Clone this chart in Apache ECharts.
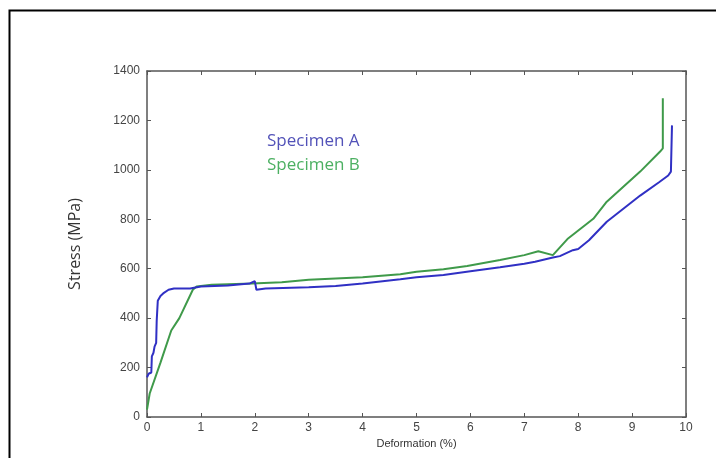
<!DOCTYPE html>
<html>
<head>
<meta charset="utf-8">
<script src="https://cdn.jsdelivr.net/npm/echarts@6/dist/echarts.min.js"></script>
<style>html,body{margin:0;padding:0;background:#fff;}#c{width:716px;height:458px;}</style>
</head>
<body>
<div id="c"></div>
<script>
const xTicks = [0,1,2,3,4,5,6,7,8,9,10];
const yTicks = [0,200,400,600,800,1000,1200,1400];

const specimenA_strain = [0,0.03,0.08,0.09,0.12,0.14,0.17,0.18,0.2,0.25,0.3,0.4,0.5,0.8,1.0,1.5,1.9,2.0,2.03,2.2,3,3.5,4,4.7,5,5.5,6,6.55,7,7.2,7.53,7.66,7.9,8.0,8.2,8.53,9.15,9.5,9.67,9.72,9.74];
const specimenA_stress = [160,175,180,245,260,285,300,390,470,490,500,515,520,520,528,532,540,550,515,520,525,530,540,557,565,575,590,606,620,628,645,651,675,680,715,790,896,950,977,993,1180];

const specimenB_strain = [0,0.05,0.25,0.45,0.6,0.85,0.92,1.2,1.95,2.5,3,3.5,4,4.7,5,5.5,5.94,6.55,7,7.26,7.53,7.8,8.28,8.53,9.15,9.52,9.57,9.57];
const specimenB_stress = [30,95,220,350,400,515,528,535,540,545,555,560,565,578,588,598,611,635,655,671,655,720,802,871,993,1074,1087,1290];

const seriesNames = ['Specimen A','Specimen B'];
const lineColors = ['#3030c4','#3f9a4a'];
const labelColors = ['#5252b8','#4cb062'];

function pairs(xs, ys){ return xs.map((x,i)=>[x, ys[i]]); }

const chart = echarts.init(document.getElementById('c'), null, {renderer:'canvas'});
const axisColor = '#555';
const tickFont = {color:'#444', fontSize:12, fontFamily:'Liberation Sans, Arial, sans-serif', formatter:(v)=>String(v)};

chart.setOption({
  animation:false,
  backgroundColor:'#fff',
  grid:{left:147, right:30, top:71, bottom:41, containLabel:false},
  legend:{
    orient:'vertical', left:262, top:133, itemWidth:0, itemHeight:0, itemGap:7, padding:0,
    icon:'none',
    textStyle:{fontSize:17, fontFamily:'Open Sans, sans-serif'},
    data:[
      {name:seriesNames[0], icon:'none', textStyle:{color:labelColors[0]}},
      {name:seriesNames[1], icon:'none', textStyle:{color:labelColors[1]}}
    ]
  },
  xAxis:[
    {type:'value', min:xTicks[0], max:xTicks[xTicks.length-1], interval:1, position:'bottom',
     name:'Deformation (%)', nameLocation:'middle', nameGap:19,
     nameTextStyle:{color:'#333', fontSize:11, fontFamily:'Liberation Sans, Arial, sans-serif'},
     axisLine:{show:true, onZero:false, lineStyle:{color:axisColor, width:1.5}},
     axisTick:{show:true, inside:true, length:4, lineStyle:{color:axisColor}},
     axisLabel:{...tickFont, margin:5},
     splitLine:{show:false}},
    {type:'value', min:xTicks[0], max:xTicks[xTicks.length-1], interval:1, position:'top',
     axisLine:{show:true, onZero:false, lineStyle:{color:axisColor, width:1.5}},
     axisTick:{show:true, inside:true, length:4, lineStyle:{color:axisColor}},
     axisLabel:{show:false}, splitLine:{show:false}}
  ],
  yAxis:[
    {type:'value', min:yTicks[0], max:yTicks[yTicks.length-1], interval:200, position:'left',
     name:'Stress (MPa)', nameLocation:'middle', nameGap:64, nameRotate:90,
     nameTextStyle:{color:'#333', fontSize:16, fontFamily:'Open Sans, sans-serif'},
     axisLine:{show:true, onZero:false, lineStyle:{color:axisColor, width:1.5}},
     axisTick:{show:true, inside:true, length:4, lineStyle:{color:axisColor}},
     axisLabel:{...tickFont, margin:7},
     splitLine:{show:false}},
    {type:'value', min:yTicks[0], max:yTicks[yTicks.length-1], interval:200, position:'right',
     axisLine:{show:true, onZero:false, lineStyle:{color:axisColor, width:1.5}},
     axisTick:{show:true, inside:true, length:4, lineStyle:{color:axisColor}},
     axisLabel:{show:false}, splitLine:{show:false}}
  ],
  series:[
    {name:seriesNames[0], type:'line', data:pairs(specimenA_strain, specimenA_stress),
     showSymbol:false, symbol:'none', lineStyle:{color:lineColors[0], width:2}, itemStyle:{color:lineColors[0]}, z:3},
    {name:seriesNames[1], type:'line', data:pairs(specimenB_strain, specimenB_stress),
     showSymbol:false, symbol:'none', lineStyle:{color:lineColors[1], width:2}, itemStyle:{color:lineColors[1]}, z:2}
  ],
  graphic:[
    {type:'rect', left:7, top:8, shape:{x:0,y:0,width:720,height:460}, silent:true,
     style:{fill:'none', stroke:'#000', lineWidth:2}, z:-1}
  ]
});
</script>
</body>
</html>
